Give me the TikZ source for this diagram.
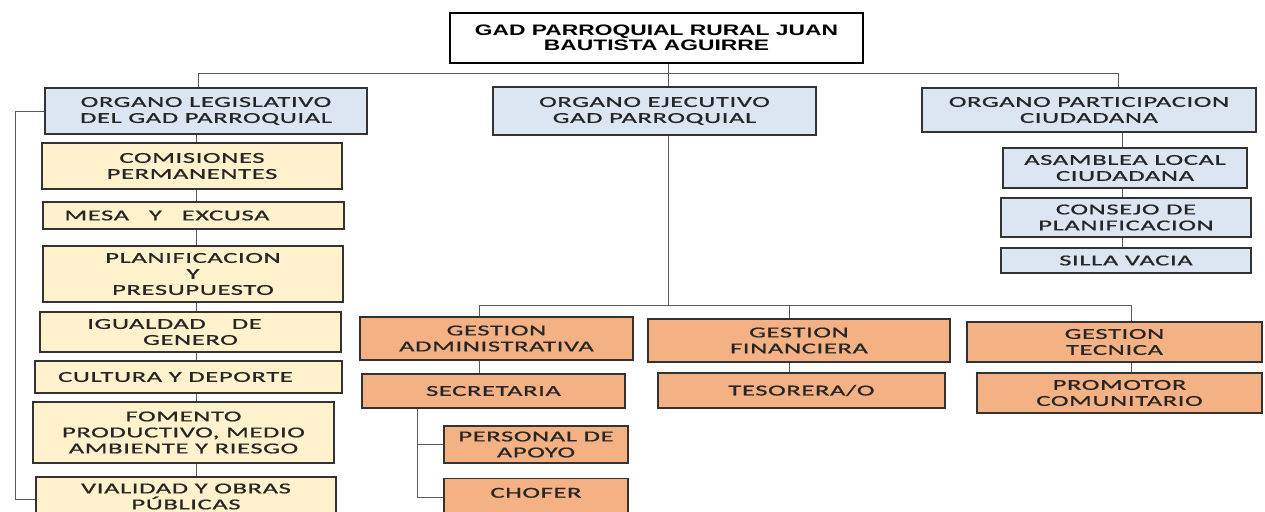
\documentclass[tikz,border=0pt]{standalone}
\usepackage{fontspec}
\usetikzlibrary{positioning}
\newfontfamily\boxfont[FakeStretch=1.75,LetterSpace=4,FakeBold=0.8]{Carlito}
\newfontfamily\headfont[FakeStretch=1.5]{Liberation Sans}
\definecolor{boxline}{HTML}{333333}
\definecolor{wire}{HTML}{5A5A5A}
\definecolor{txt}{HTML}{262626}
\definecolor{blueish}{HTML}{DCE6F2}
\definecolor{cream}{HTML}{FFF2CC}
\definecolor{peach}{HTML}{F4B183}
\tikzset{
  box/.style={draw=boxline,line width=1.4pt,inner sep=0pt,align=center,text=txt,
    font=\boxfont\fontsize{15.2}{16}\selectfont},
  organo/.style={box,fill=blueish},
  comision/.style={box,fill=cream},
  gestion/.style={box,fill=peach},
  conn/.style={draw=wire,line width=1pt}
}

\begin{document}
\begin{tikzpicture}[x=1pt,y=-1pt]
\useasboundingbox (0,0) rectangle (1265,511);
\clip (0,0) rectangle (1265,511);
\node[box,draw=black,fill=white,minimum width=413pt,minimum height=50pt,
  font=\headfont\bfseries\fontsize{15.2}{15.5}\selectfont,text=black]
  (gad) at (656.5,38) {GAD PARROQUIAL RURAL JUAN\\BAUTISTA AGUIRRE};
\node[organo,minimum width=322pt,minimum height=46pt] (leg) at (206,111) {ORGANO LEGISLATIVO\\DEL GAD PARROQUIAL};
\node[organo,minimum width=323pt,minimum height=48pt] (eje) at (654.5,111) {ORGANO EJECUTIVO\\GAD PARROQUIAL};
\node[organo,minimum width=334pt,minimum height=44pt] (par) at (1089,110) {ORGANO PARTICIPACION\\CIUDADANA};
\coordinate (busL) at (198,73);
\coordinate (trunk) at (668,73);
\coordinate (busR) at (1118,73);
\draw[conn] (gad.south -| trunk) -- (trunk);
\draw[conn] (leg.north -| busL) -- (busL) -- (busR) -- (par.north -| busR);
\draw[conn] (trunk) -- (eje.north -| trunk);

% comisiones
\node[comision,minimum width=300pt,minimum height=46pt] (com) at (192,166) {COMISIONES\\PERMANENTES};
\node[comision,minimum width=301pt,minimum height=27pt] (mes) at (193.5,215.5) {MESA\ \ \ Y\ \ \ EXCUSA\hspace*{53pt}};
\node[comision,minimum width=300pt,minimum height=56pt] (pla) at (193,274) {PLANIFICACION\\Y\\PRESUPUESTO};
\node[comision,minimum width=301pt,minimum height=40pt] (igu) at (190.5,332) {IGUALDAD\hspace{26pt}DE\hspace*{32pt}\\GENERO};
\node[comision,minimum width=307pt,minimum height=32pt] (cul) at (188.5,377) {CULTURA Y DEPORTE\hspace*{26pt}};
\node[comision,minimum width=301pt,minimum height=61pt] (fom) at (183.5,432.5) {FOMENTO\\PRODUCTIVO, MEDIO\\AMBIENTE Y RIESGO};
\node[comision,minimum width=300pt,minimum height=39pt] (via) at (186,496.5) {VIALIDAD Y OBRAS\\PÚBLICAS};
\coordinate (spine) at (196,0);
\foreach \a/\b in {leg/com,com/mes,mes/pla,pla/igu,igu/cul,cul/fom,fom/via}
  \draw[conn] (\a.south -| spine) -- (\b.north -| spine);
\coordinate (brk) at (15,499);
\draw[conn] (leg.west) -| (brk) -- (brk -| via.west);

% participacion
\node[organo,minimum width=244pt,minimum height=40pt] (asa) at (1125,168) {ASAMBLEA LOCAL\\CIUDADANA};
\node[organo,minimum width=250pt,minimum height=39pt] (con) at (1126,217.5) {CONSEJO DE\\PLANIFICACION};
\node[organo,minimum width=250pt,minimum height=25pt] (sil) at (1126,260.5) {SILLA VACIA};
\coordinate (pline) at (1122,0);
\foreach \a/\b in {par/asa,asa/con,con/sil}
  \draw[conn] (\a.south -| pline) -- (\b.north -| pline);

% ejecutivo
\coordinate (bus2) at (668,305);
\coordinate (adm) at (479,305);
\coordinate (fin) at (789,305);
\coordinate (tec) at (1131,305);
\node[gestion,minimum width=273pt,minimum height=43pt] (gadm) at (496.5,338.5) {GESTION\\ADMINISTRATIVA};
\node[gestion,minimum width=302pt,minimum height=43pt] (gfin) at (799,340.5) {GESTION\\FINANCIERA};
\node[gestion,minimum width=295pt,minimum height=40pt] (gtec) at (1114.5,342) {GESTION\\TECNICA};
\node[gestion,minimum width=263pt,minimum height=34pt] (sec) at (493.5,391) {SECRETARIA};
\node[gestion,minimum width=287pt,minimum height=35pt] (tes) at (801.5,390.5) {TESORERA/O};
\node[gestion,minimum width=285pt,minimum height=40pt] (pro) at (1119.5,393) {PROMOTOR\\COMUNITARIO};
\node[gestion,minimum width=184pt,minimum height=37pt] (per) at (536,444.5) {PERSONAL DE\\APOYO};
\node[gestion,minimum width=184pt,anchor=north,inner ysep=8pt,text height=11pt,text depth=40pt] (cho) at (536,478) {CHOFER};
\draw[conn] (eje.south -| bus2) -- (bus2);
\draw[conn] (gadm.north -| adm) -- (adm) -- (tec) -- (gtec.north -| tec);
\draw[conn] (fin) -- (gfin.north -| fin);
\draw[conn] (gadm.south -| adm) -- (sec.north -| adm);
\draw[conn] (gfin.south -| fin) -- (tes.north -| fin);
\draw[conn] (gtec.south -| tec) -- (pro.north -| tec);
\coordinate (sb) at (417,497);
\draw[conn] (sec.south -| sb) -- (sb) -- (sb -| cho.west);
\draw[conn] (per.west -| sb) -- (per.west);
\end{tikzpicture}
\end{document}
